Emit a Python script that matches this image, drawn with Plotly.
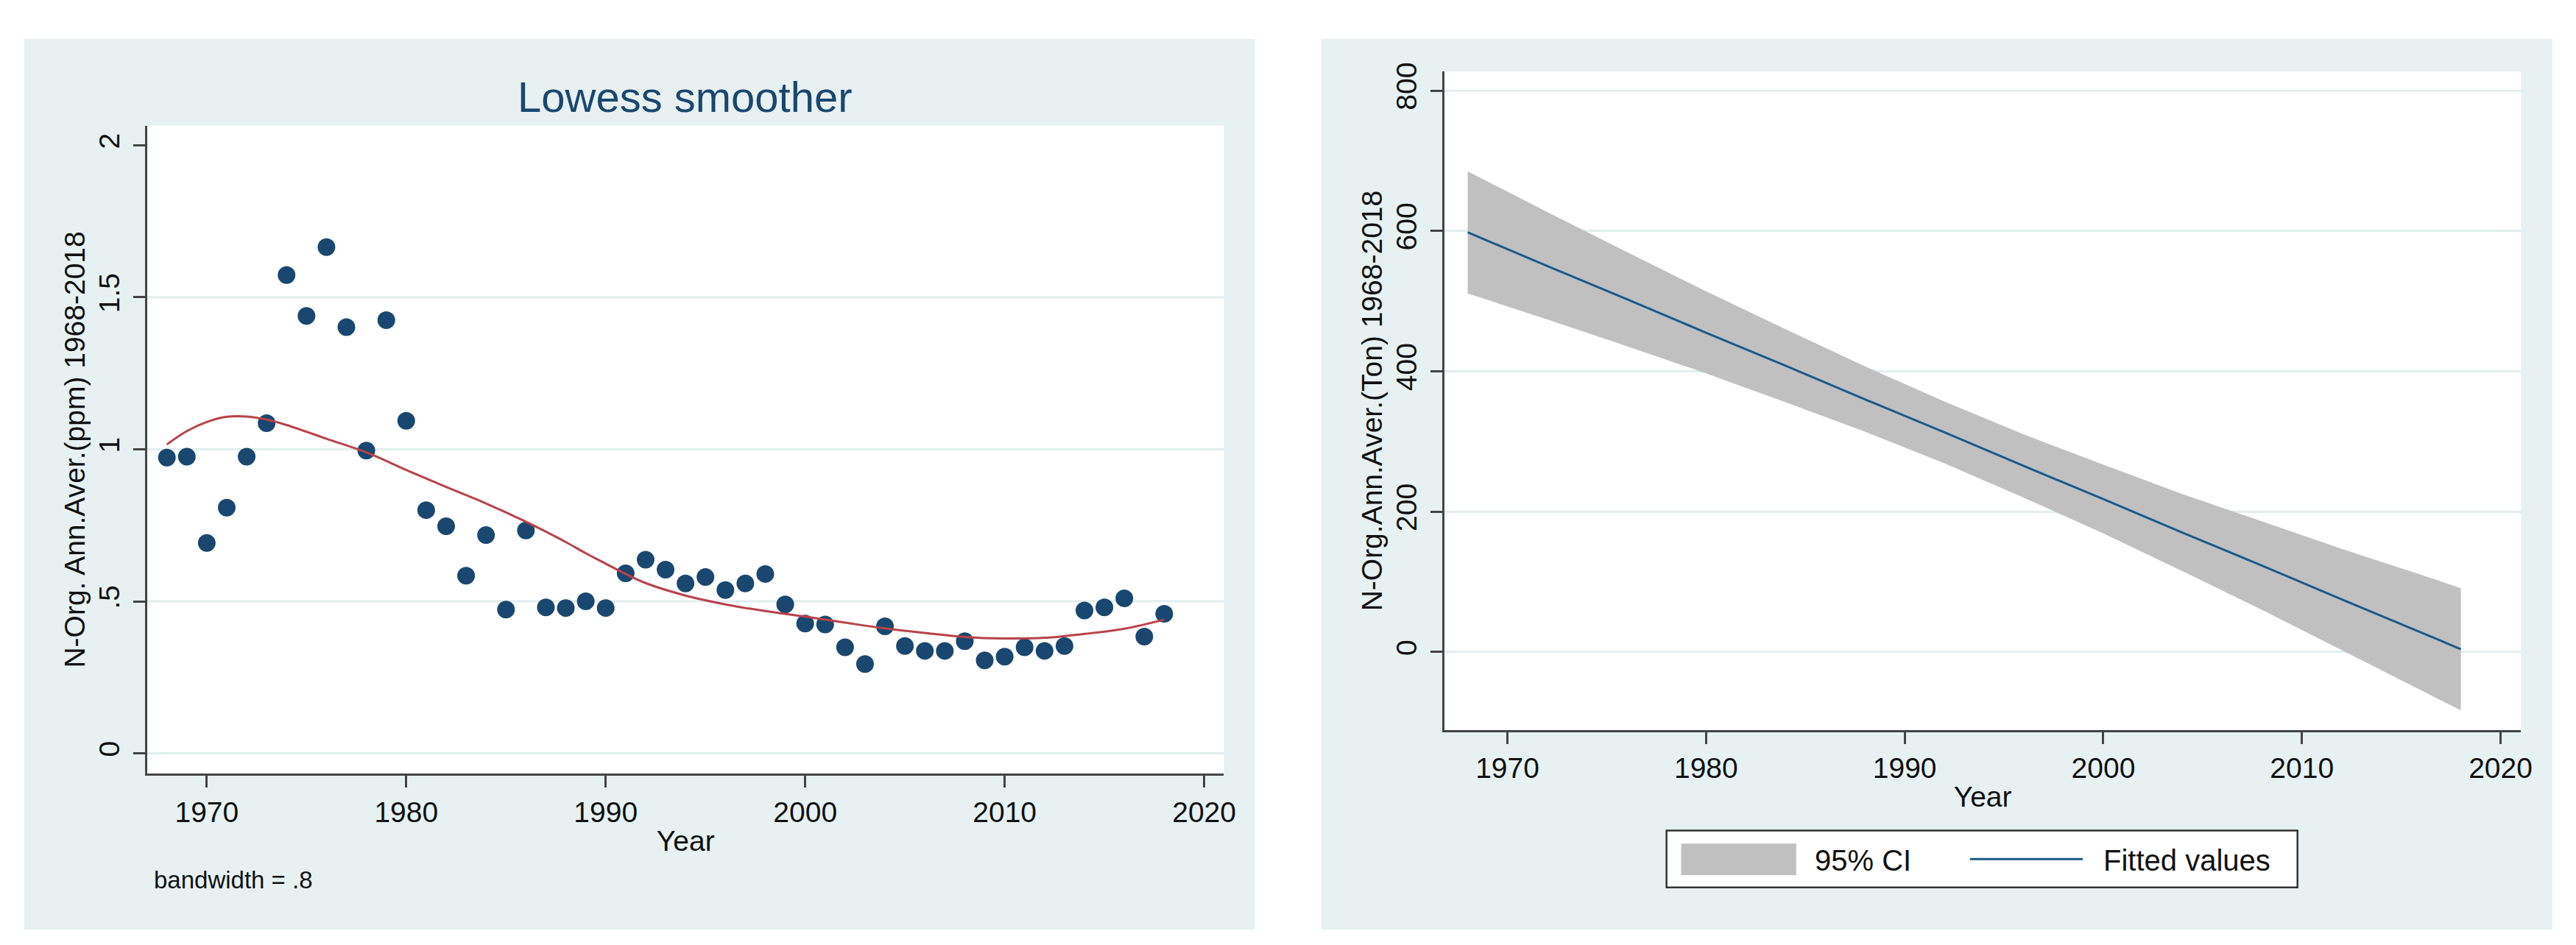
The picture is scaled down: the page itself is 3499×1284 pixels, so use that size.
import plotly.graph_objects as go

# ---------------- data ----------------
years = list(range(1968, 2019))
n_org_ppm = [0.973, 0.976, 0.692, 0.808, 0.976, 1.086, 1.573, 1.439, 1.665, 1.402,
             0.996, 1.425, 1.094, 0.800, 0.747, 0.584, 0.718, 0.473, 0.733, 0.480,
             0.478, 0.500, 0.478, 0.592, 0.637, 0.604, 0.559, 0.580, 0.537, 0.559,
             0.590, 0.490, 0.427, 0.424, 0.349, 0.294, 0.418, 0.353, 0.337, 0.337,
             0.369, 0.306, 0.318, 0.349, 0.337, 0.353, 0.470, 0.480, 0.510, 0.384,
             0.459]

lowess_years = [1968, 1969, 1970, 1971, 1972, 1973, 1974, 1976, 1978, 1980, 1982, 1984,
                1986, 1988, 1989, 1990, 1991, 1992, 1994, 1996, 1998, 2000, 2002, 2004,
                2006, 2008, 2010, 2012, 2014, 2016, 2018]
lowess_vals = [1.016, 1.060, 1.090, 1.107, 1.108, 1.098, 1.080, 1.035, 0.990, 0.932,
               0.876, 0.822, 0.762, 0.695, 0.658, 0.624, 0.590, 0.560, 0.519, 0.490,
               0.468, 0.450, 0.430, 0.411, 0.396, 0.383, 0.378, 0.380, 0.393, 0.410,
               0.440]

fit_years = [1968, 1972, 1976, 1980, 1984, 1988, 1992, 1996, 2000, 2004, 2008, 2012, 2016, 2018]
fit_vals = [598, 550, 503, 455, 408, 360, 313, 265, 218, 170, 123, 75, 28, 4]
ci_upper = [685, 627, 570, 514, 460, 407, 357, 310, 267, 225, 186, 147, 110, 91]
ci_lower = [511, 474, 436, 397, 356, 314, 269, 220, 169, 115, 60, 3, -54, -83]

x_ticks = [1970, 1980, 1990, 2000, 2010, 2020]
x_tick_text = ["1970", "1980", "1990", "2000", "2010", "2020"]
left_y_ticks = [0, 0.5, 1, 1.5, 2]
left_y_tick_text = ["0", ".5", "1", "1.5", "2"]
left_grid_vals = [0, 0.5, 1, 1.5]
right_y_ticks = [0, 200, 400, 600, 800]
right_y_tick_text = ["0", "200", "400", "600", "800"]

# ---------------- style ----------------
W, H = 3499, 1284
FONT = "Liberation Sans, Arial, Helvetica, sans-serif"
PANEL = "#E7F1F2"
GRID = "#E2EEEF"
AXIS = "#444444"
NAVY = "#1A476F"
RED = "#B8424A"
FITBLUE = "#1C5A87"
BAND = "#C0C0C0"


def px(x):
    return x / W


def py(y):
    return 1 - y / H


# plot area pixel boxes
L = dict(x0=193, x1=1662, y0=152, y1=1041)
R = dict(x0=1963, x1=3432, y0=78, y1=981)

fig = go.Figure()

fig.add_trace(go.Scatter(x=years, y=n_org_ppm, mode="markers",
                         marker=dict(color=NAVY, size=24, line=dict(width=0)),
                         xaxis="x", yaxis="y", showlegend=False, name="N-Org"))
fig.add_trace(go.Scatter(x=lowess_years, y=lowess_vals, mode="lines",
                         line=dict(color=RED, width=3, shape="spline"),
                         xaxis="x", yaxis="y", showlegend=False, name="lowess"))

fig.add_trace(go.Scatter(x=fit_years, y=ci_lower, mode="lines", line=dict(width=0, color=BAND),
                         xaxis="x2", yaxis="y2", showlegend=False, hoverinfo="skip"))
fig.add_trace(go.Scatter(x=fit_years, y=ci_upper, mode="lines", line=dict(width=0, color=BAND),
                         fill="tonexty", fillcolor=BAND,
                         xaxis="x2", yaxis="y2", showlegend=False, name="95% CI"))
fig.add_trace(go.Scatter(x=fit_years, y=fit_vals, mode="lines",
                         line=dict(color=FITBLUE, width=3),
                         xaxis="x2", yaxis="y2", showlegend=False, name="Fitted values"))

axis_common = dict(showline=True, linecolor=AXIS, linewidth=2.5, mirror=False,
                   ticks="outside", ticklen=16, tickwidth=2.5, tickcolor=AXIS,
                   zeroline=False, tickfont=dict(size=39, color="#111111", family=FONT))

xcommon = dict(axis_common, tickvals=x_ticks, ticktext=x_tick_text, showgrid=False,
               ticklabelstandoff=0,
               title=dict(text="Year", font=dict(size=39, color="#111111", family=FONT), standoff=5))

fig.update_layout(
    width=W, height=H,
    margin=dict(l=0, r=0, t=0, b=0, pad=0),
    paper_bgcolor="white", plot_bgcolor="white",
    font=dict(family=FONT, color="#111111"),
    showlegend=False,
    xaxis=dict(xcommon, domain=[px(L["x0"]), px(L["x1"])], range=[1967.02, 2020.99], anchor="y"),
    yaxis=dict(axis_common, domain=[py(L["y1"]), py(L["y0"])], range=[-0.067, 2.065],
               tickvals=left_y_ticks, ticktext=left_y_tick_text, tickangle=-90,
               showgrid=False, ticklabelstandoff=4, anchor="x",
               title=dict(text="N-Org. Ann.Aver.(ppm) 1968-2018",
                          font=dict(size=39, color="#111111", family=FONT), standoff=0)),
    xaxis2=dict(xcommon, domain=[px(R["x0"]), px(R["x1"])], range=[1966.83, 2021.03], anchor="y2"),
    yaxis2=dict(axis_common, domain=[py(R["y1"]), py(R["y0"])], range=[-111, 827],
                tickvals=right_y_ticks, ticktext=right_y_tick_text, tickangle=-90,
                showgrid=True, gridcolor=GRID, gridwidth=3, ticklabelstandoff=4, anchor="x2",
                title=dict(text="N-Org.Ann.Aver.(Ton) 1968-2018",
                           font=dict(size=39, color="#111111", family=FONT), standoff=0)),
)

shapes = []
# panel backgrounds
for (a, b) in [(25, 1704), (1795, 3475)]:
    shapes.append(dict(type="rect", xref="paper", yref="paper", layer="below",
                       x0=px(a), x1=px(b), y0=py(1255), y1=py(33),
                       fillcolor=PANEL, line=dict(width=0)))
# plot regions (white)
for box in (L, R):
    shapes.append(dict(type="rect", xref="paper", yref="paper", layer="below",
                       x0=px(box["x0"]), x1=px(box["x1"]), y0=py(box["y1"]), y1=py(box["y0"]),
                       fillcolor="white", line=dict(width=0)))
# left grid lines
for g in left_grid_vals:
    shapes.append(dict(type="line", xref="x domain", yref="y", layer="below",
                       x0=0, x1=1, y0=g, y1=g, line=dict(color=GRID, width=3)))
# manual legend (right panel)
shapes.append(dict(type="rect", xref="paper", yref="paper",
                   x0=px(2266), x1=px(3127), y0=py(1197), y1=py(1119),
                   fillcolor="white", line=dict(color="#333333", width=2.5)))
shapes.append(dict(type="rect", xref="paper", yref="paper",
                   x0=px(2286), x1=px(2443), y0=py(1180), y1=py(1137),
                   fillcolor=BAND, line=dict(width=0)))
shapes.append(dict(type="line", xref="paper", yref="paper",
                   x0=px(2680), x1=px(2834), y0=py(1158), y1=py(1158),
                   line=dict(color=FITBLUE, width=3)))
fig.update_layout(shapes=shapes)

annotations = [
    dict(text="Lowess smoother", x=px(927), y=py(113), xref="paper", yref="paper",
         xanchor="center", yanchor="middle", showarrow=False,
         font=dict(size=58, color=NAVY, family=FONT)),
    dict(text="bandwidth = .8", x=px(200), y=py(1187), xref="paper", yref="paper",
         xanchor="left", yanchor="middle", showarrow=False,
         font=dict(size=33, color="#111111", family=FONT)),
    dict(text="95% CI", x=px(2466), y=py(1160), xref="paper", yref="paper",
         xanchor="left", yanchor="middle", showarrow=False,
         font=dict(size=40, color="#111111", family=FONT)),
    dict(text="Fitted values", x=px(2860), y=py(1160), xref="paper", yref="paper",
         xanchor="left", yanchor="middle", showarrow=False,
         font=dict(size=40, color="#111111", family=FONT)),
]
fig.update_layout(annotations=annotations)

fig.write_html("out.html")
